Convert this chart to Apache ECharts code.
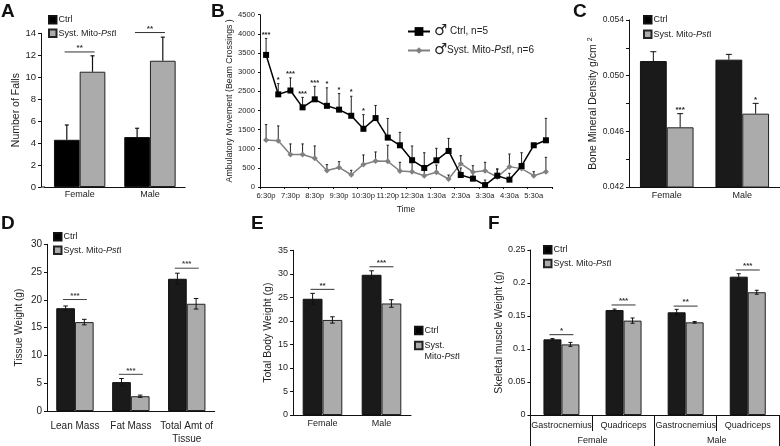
<!DOCTYPE html>
<html><head><meta charset="utf-8">
<style>html,body{margin:0;padding:0;background:#fff}#c{width:780px;height:446px}</style>
<script src="https://cdn.jsdelivr.net/npm/echarts@6/dist/echarts.min.js"></script>
</head><body><div id="c"></div>
<script>
// ---------- data ----------
const sexCats = ['Female', 'Male'];
const aCtrl = [4.3, 4.55], aCtrlHigh = [5.65, 5.35];
const aMut = [10.5, 11.5], aMutHigh = [11.95, 13.65];
const aSig = [[0, 12.3, '**'], [1, 14.07, '**']];

const bTimes = ['6:30p','7:00p','7:30p','8:00p','8:30p','9:00p','9:30p','10:00p','10:30p','11:00p','11:20p','12:00a',
  '12:30a','1:00a','1:30a','2:00a','2:30a','3:00a','3:30a','4:00a','4:30a','5:00a','5:30a','6:00a'];
const bCtrl = [3450,2420,2520,2080,2290,2120,2020,1860,1520,1800,1290,1090,700,497,697,942,314,218,50,296,192,549,1090,1220];
const bCtrlHigh = [3880,2700,2850,2340,2630,2590,2440,2370,1890,2130,1790,1427,1070,895,1010,1270,496,357,180,470,357,895,1130,1793];
const bMut = [1230,1210,850,850,750,430,510,320,590,680,670,418,400,296,384,209,610,392,427,262,532,480,296,400];
const bMutHigh = [1630,1595,1125,1125,1072,584,662,436,837,915,1090,645,645,530,574,313,817,556,645,470,861,520,400,775];
const bSig = [[0,3976,'***'],[1,2790,'*'],[2,2947,'***'],[3,2424,'***'],[4,2712,'***'],[5,2686,'*'],[6,2529,'*'],[7,2476,'*'],[8,1979,'*']];

const cCtrl = [0.05105, 0.05115], cCtrlHigh = [0.05172, 0.05153];
const cMut = [0.04629, 0.04727], cMutHigh = [0.04727, 0.04801];
const cSig = [[0, 0.04752, '***'], [1, 0.04825, '*']];

const dCats = ['Lean Mass', 'Fat Mass', 'Total Amt of\nTissue'];
const dCtrl = [18.5, 5.2, 23.8], dCtrlErr = [0.4, 0.65, 1.0];
const dMut = [16.0, 2.66, 19.3], dMutErr = [0.5, 0.2, 0.95];
const dSig = [[0, 20.06, '***'], [1, 6.6, '***'], [2, 25.7, '***']];

const eCtrl = [24.7, 29.8], eCtrlErr = [1.15, 0.85];
const eMut = [20.2, 23.7], eMutErr = [0.67, 0.8];
const eSig = [[0, 26.7, '**'], [1, 31.5, '***']];

const fCats = ['Gastrocnemius', 'Quadriceps', 'Gastrocnemius', 'Quadriceps'];
const fCtrl = [0.1146, 0.159, 0.1556, 0.2096], fCtrlErr = [0.0012, 0.0015, 0.0045, 0.0045];
const fMut = [0.107, 0.143, 0.1404, 0.186], fMutErr = [0.003, 0.004, 0.0012, 0.003];
const fSig = [[0, 0.1217, '*'], [1, 0.1667, '***'], [2, 0.165, '**'], [3, 0.2197, '***']];

// ---------- helpers ----------
const FONT = '"Liberation Sans", Arial, sans-serif';
const TXT = '#222';
const CTRL = 'Ctrl', MUT = 'Syst. Mito-PstI', MUT_E = 'Syst.\nMito-PstI';
const grids = [], xAxes = [], yAxes = [], series = [], legends = [], titles = [], graphics = [];

function hiLow(vals, errs){ return vals.map((v,i)=>[i, v-errs[i], v+errs[i]]); }
function upOnly(vals, highs){ return vals.map((v,i)=>[i, v, highs[i]]); }
function richName(n){
  return n.split('\n').map(l => l.split('Pst').map(p => p ? '{n|'+p+'}' : '').join('{i|Pst}')).join('\n');
}
function richStyles(size, lh){
  return { n:{fontFamily:FONT,fontSize:size,color:TXT,lineHeight:lh},
           i:{fontFamily:FONT,fontSize:size,color:TXT,lineHeight:lh,fontStyle:'italic'} };
}
function errSeries(idx, data, shift, cap, color, lw, both){
  return { type:'custom', xAxisIndex:idx, yAxisIndex:idx, silent:true, clip:false, z:5, animation:false,
    encode:{x:0,y:[1,2]}, data,
    renderItem(p, api){
      const a = api.coord([api.value(0), api.value(1)]), b = api.coord([api.value(0), api.value(2)]);
      const x = a[0] + shift;
      const st = {stroke:color, lineWidth:lw, fill:null};
      const ch = [
        {type:'line', shape:{x1:x,y1:a[1],x2:x,y2:b[1]}, style:st},
        {type:'line', shape:{x1:x-cap,y1:b[1],x2:x+cap,y2:b[1]}, style:st}];
      if(both) ch.push({type:'line', shape:{x1:x-cap,y1:a[1],x2:x+cap,y2:a[1]}, style:st});
      return {type:'group', children:ch};
    }};
}
function sigSeries(idx, data, half, fontSize, lift, lineColor, shift){
  return { type:'custom', xAxisIndex:idx, yAxisIndex:idx, silent:true, clip:false, z:6, animation:false,
    encode:{x:0,y:1}, data,
    renderItem(p, api){
      const c = api.coord([api.value(0), api.value(1)]);
      const d = data[p.dataIndex];
      const x = c[0] + (shift||0);
      const ch = [{type:'text', style:{text:d[2], x, y:c[1]-lift, align:'center', verticalAlign:'middle',
        font:'bold '+fontSize+'px '+FONT, fill:lineColor}}];
      if(half) ch.push({type:'line', shape:{x1:x-half,y1:c[1],x2:x+half,y2:c[1]}, style:{stroke:lineColor,lineWidth:1}});
      return {type:'group', children:ch};
    }};
}
function axisBase(){ return {lineStyle:{color:'#111',width:1}}; }

function barPanel(o){
  const i = grids.length;
  grids.push({left:o.left, top:o.top, width:o.width, height:o.height});
  xAxes.push({gridIndex:i, type:'category', data:o.cats, position:'bottom',
    axisLine:axisBase(), axisTick:o.xTick||{show:false},
    axisLabel:{color:TXT,fontFamily:FONT,fontSize:o.xFont,margin:o.xMargin,interval:0,lineHeight:o.xLine||12}});
  yAxes.push({gridIndex:i, type:'value', min:o.min, max:o.max, interval:o.interval, offset:o.yOffset||0,
    name:o.yName, nameLocation:'middle', nameGap:o.nameGap, nameRotate:90,
    nameTextStyle:{color:TXT,fontFamily:FONT,fontSize:o.nameFont,rich:o.nameRich},
    splitLine:{show:false}, axisLine:Object.assign({show:true,onZero:false},axisBase()),
    axisTick:{show:true,length:3,lineStyle:{color:'#111'}},
    axisLabel:{color:TXT,fontFamily:FONT,fontSize:o.yFont,margin:5,formatter:o.yFmt}});
  const common = {type:'bar', xAxisIndex:i, yAxisIndex:i, barWidth:o.barW, barGap:'0%', animation:false, silent:true};
  series.push(Object.assign({},common,{name:CTRL,data:o.ctrl,itemStyle:{color:o.ctrlColor||'#1a1a1a',borderColor:'#111',borderWidth:1}}));
  series.push(Object.assign({},common,{name:o.mutName||MUT,data:o.mut,itemStyle:{color:'#ababab',borderColor:'#222',borderWidth:1}}));
  const both = !o.up, lw = o.errW||1;
  series.push(errSeries(i, o.ctrlErr, -o.barW/2, o.cap, '#111', lw, both));
  series.push(errSeries(i, o.mutErr, o.barW/2, o.cap, '#111', lw, both));
  series.push(sigSeries(i, o.sig, o.sigHalf, o.sigFont||8, o.sigLift, o.sigColor||'#333', o.sigShift));
  const lh = o.lgLine||10;
  legends.push({data:[CTRL, o.mutName||MUT].map(n=>({name:n})), orient:'vertical', left:o.lgLeft, top:o.lgTop,
    itemWidth:7.5, itemHeight:7.5, itemGap:o.lgGap, padding:0, selectedMode:false, icon:'rect',
    formatter:n=>(n.includes('\n')?'{n| }\n':'')+richName(n),
    textStyle:{color:TXT,fontFamily:FONT,fontSize:o.lgFont,padding:[0,0,0,-3],rich:richStyles(o.lgFont,lh)}});
  return i;
}
function letter(t, left, top){
  titles.push({text:t, left, top, padding:0, textStyle:{fontFamily:FONT,fontWeight:'bold',fontSize:19,color:'#111'}});
}

// ---------- panels ----------
letter('A',1,2); letter('B',211,2); letter('C',573,2); letter('D',1,214); letter('E',251,214); letter('F',488,214);

barPanel({left:44.5,top:33.3,width:140.6,height:153.7,cats:sexCats,min:0,max:14,interval:2,yOffset:3.5,
  yName:'Number of Falls',nameGap:18.5,nameFont:10.5,yFont:9.5,xFont:9,xMargin:2,barW:25.7,errW:1.2,
  ctrl:aCtrl,mut:aMut,ctrlColor:'#000',up:true,ctrlErr:upOnly(aCtrl,aCtrlHigh),mutErr:upOnly(aMut,aMutHigh),cap:2,
  sig:aSig,sigHalf:15,sigLift:4,lgLeft:48,lgTop:15,lgGap:4,lgFont:9});
graphics.push({type:'line',shape:{x1:41,y1:187,x2:45,y2:187},style:{stroke:'#111',lineWidth:1},silent:true});

// panel B: line chart
(function(){
  const i = grids.length;
  grids.push({left:260,top:14.7,width:292,height:172.3});
  xAxes.push({gridIndex:i,type:'category',data:bTimes,axisLine:axisBase(),
    axisTick:{show:true,length:2,lineStyle:{color:'#111'}},
    axisLabel:{interval:1,color:TXT,fontFamily:FONT,fontSize:7.6,margin:4.5,hideOverlap:false},
    name:'Time',nameLocation:'middle',nameGap:18,nameTextStyle:{color:TXT,fontFamily:FONT,fontSize:8.5}});
  yAxes.push({gridIndex:i,type:'value',min:0,max:4500,interval:500,
    name:'Ambulatory Movement (Beam Crossings )',nameLocation:'middle',nameGap:26,nameRotate:90,
    nameTextStyle:{color:TXT,fontFamily:FONT,fontSize:8.8},
    splitLine:{show:false},axisLine:Object.assign({show:true},axisBase()),
    axisTick:{show:true,length:2,lineStyle:{color:'#111'}},
    axisLabel:{color:TXT,fontFamily:FONT,fontSize:7.6,margin:5,formatter:v=>String(v)}});
  series.push(errSeries(i, upOnly(bMut,bMutHigh), 0, 1.2, '#222', 1));
  series.push(errSeries(i, upOnly(bCtrl,bCtrlHigh), 0, 1.2, '#222', 1));
  const ln = {type:'line',xAxisIndex:i,yAxisIndex:i,animation:false,silent:true,showAllSymbol:true};
  series.push(Object.assign({},ln,{name:'Syst. Mito-PstI, n=6',data:bMut,symbol:'diamond',symbolSize:6,z:7,
    lineStyle:{color:'#808080',width:1.5},itemStyle:{color:'#808080'}}));
  series.push(Object.assign({},ln,{name:'Ctrl, n=5',data:bCtrl,symbol:'rect',symbolSize:6,z:8,
    lineStyle:{color:'#000',width:1.5},itemStyle:{color:'#000'}}));
  series.push(sigSeries(i, bSig, 0, 7.5, 0, '#222'));
  const lg = (name, top, size, symGap) => {
    const rich = richStyles(10, 14);
    rich.m = {fontFamily:'"DejaVu Sans"',fontSize:15,color:'#222',width:12,lineHeight:14};
    rich.g = {width:symGap};
    legends.push({data:[{name}],left:407,top,itemWidth:22,itemHeight:size,padding:0,selectedMode:false,
      formatter:n=>'{m|♂}{g|}'+richName(n),
      textStyle:{color:TXT,fontFamily:FONT,fontSize:10,padding:[0,0,0,-1],rich}});
  };
  lg('Ctrl, n=5', 24, 11, 4);
  lg('Syst. Mito-PstI, n=6', 43, 8, 1);
})();

barPanel({left:629,top:20,width:154.4,height:167,cats:sexCats,min:0.042,max:0.054,interval:0.002,
  yFmt:v=>{const k=Math.round(v*1000);return (k-42)%4===0?(k/1000).toFixed(3):'';},
  yName:'Bone Mineral Density g/cm {s|2}',nameGap:29,nameFont:10.5,nameRich:{s:{fontSize:7,verticalAlign:'top',padding:[0,0,6,0],fontFamily:FONT,color:TXT}},
  yFont:8.5,xFont:9,xMargin:3,barW:26.8,ctrl:cCtrl,mut:cMut,up:true,ctrlErr:upOnly(cCtrl,cCtrlHigh),mutErr:upOnly(cMut,cMutHigh),cap:3,
  sig:cSig,sigHalf:0,sigLift:0,sigShift:13.4,sigColor:'#222',lgLeft:643,lgTop:15,lgGap:5,lgFont:9});

barPanel({left:47,top:244.3,width:167.7,height:169,cats:dCats,min:0,max:30,interval:5,
  yName:'Tissue Weight (g)',nameGap:23,nameFont:10,yFont:10,xFont:10,xMargin:9,xLine:13,barW:18.7,
  ctrl:dCtrl,mut:dMut,ctrlErr:hiLow(dCtrl,dCtrlErr),mutErr:hiLow(dMut,dMutErr),cap:2.3,
  sig:dSig,sigHalf:12,sigLift:4,sigColor:'#444',lgLeft:53,lgTop:232,lgGap:4,lgFont:9});

barPanel({left:293,top:250.3,width:118,height:164.7,cats:sexCats,min:0,max:35,interval:5,
  yName:'Total Body Weight (g)',nameGap:19,nameFont:10.5,yFont:9,xFont:9,xMargin:3,barW:19.8,
  ctrl:eCtrl,mut:eMut,ctrlErr:hiLow(eCtrl,eCtrlErr),mutErr:hiLow(eMut,eMutErr),cap:2.3,mutName:MUT_E,
  sig:eSig,sigHalf:12,sigLift:4,sigColor:'#333',lgLeft:414,lgTop:325.7,lgGap:-5,lgLine:10.7,lgFont:9});

const fi = barPanel({left:530.4,top:250,width:248.4,height:165,cats:fCats,min:0,max:0.25,interval:0.05,
  yName:'Skeletal muscle Weight (g)',nameGap:24,nameFont:10.3,yFont:9,xFont:9,xMargin:5,barW:18,
  xTick:{show:true,length:16,lineStyle:{color:'#111'}},
  ctrl:fCtrl,mut:fMut,ctrlErr:hiLow(fCtrl,fCtrlErr),mutErr:hiLow(fMut,fMutErr),cap:2,
  sig:fSig,sigHalf:12,sigLift:4,sigColor:'#333',lgLeft:543,lgTop:245,lgGap:4.3,lgFont:9});
// second level of the F category axis: Female / Male
xAxes.push({gridIndex:fi,type:'category',data:sexCats,position:'bottom',
  axisLine:{show:false},axisTick:{show:true,length:31,lineStyle:{color:'#111'}},
  axisLabel:{color:TXT,fontFamily:FONT,fontSize:9,margin:21,interval:0}});

const chart = echarts.init(document.getElementById('c'), null, {renderer:'canvas'});
chart.setOption({animation:false,backgroundColor:'#fff',title:titles,grid:grids,xAxis:xAxes,yAxis:yAxes,series,legend:legends,tooltip:{show:false},graphic:graphics});
</script></body></html>
